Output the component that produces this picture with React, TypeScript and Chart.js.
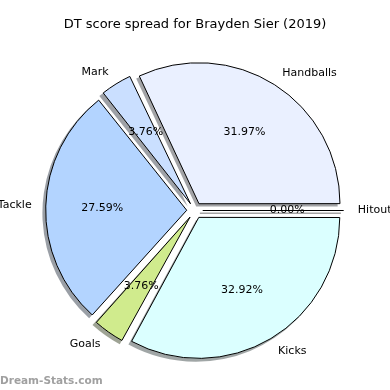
import React, { useEffect, useRef } from "react";
import { Chart, registerables } from "chart.js";

Chart.register(...registerables);

// Order is clockwise from 3 o'clock (matplotlib's counter-clockwise order reversed)
const categories = ["Hitout", "Kicks", "Goals", "Tackle", "Mark", "Handballs"];
const shares = [0.0, 32.92, 3.76, 27.59, 3.76, 31.97];
const sliceColors = ["#f0f0f0", "#dbffff", "#d0eb8d", "#b3d4ff", "#cadfff", "#eaf0ff"];
const titleText = "DT score spread for Brayden Sier (2019)";
const watermark = "Dream-Stats.com";

const RADIUS = 141;
const EXPLODE = 8;
const SHADOW = 2.8;
const FONT = "'DejaVu Sans', sans-serif";

function shadowColor(hex: string) {
  const n = parseInt(hex.slice(1), 16);
  const r = Math.round(((n >> 16) & 255) * 0.3);
  const g = Math.round(((n >> 8) & 255) * 0.3);
  const b = Math.round((n & 255) * 0.3);
  return `rgba(${r},${g},${b},0.5)`;
}

const pieDecor = {
  id: "pieDecor",
  afterDatasetsUpdate(chart: any) {
    const meta = chart.getDatasetMeta(0);
    meta.data.forEach((arc: any) => {
      const circ = arc.circumference || 0;
      const fix = 1 - Math.sin(Math.min(Math.PI, circ));
      arc.outerRadius = RADIUS - EXPLODE * fix;
    });
  },
  beforeDatasetsDraw(chart: any) {
    const ctx = chart.ctx;
    const meta = chart.getDatasetMeta(0);
    ctx.save();
    meta.data.forEach((arc: any, i: number) => {
      const { x, y, startAngle: s, endAngle: e } = arc;
      const mid = (s + e) / 2;
      const cx = x + Math.cos(mid) * EXPLODE - SHADOW;
      const cy = y + Math.sin(mid) * EXPLODE + SHADOW;
      const col = shadowColor(sliceColors[i]);
      if (e - s <= 0) {
        ctx.strokeStyle = col;
        ctx.lineWidth = 1.5;
        ctx.beginPath();
        ctx.moveTo(cx, cy);
        ctx.lineTo(cx + Math.cos(mid) * RADIUS, cy + Math.sin(mid) * RADIUS);
        ctx.stroke();
      } else {
        ctx.fillStyle = col;
        ctx.beginPath();
        ctx.moveTo(cx, cy);
        ctx.arc(cx, cy, RADIUS + 0.5, s, e);
        ctx.closePath();
        ctx.fill();
      }
    });
    ctx.restore();
  },
  afterDatasetsDraw(chart: any) {
    const ctx = chart.ctx;
    const meta = chart.getDatasetMeta(0);
    ctx.save();
    meta.data.forEach((arc: any) => {
      const { x, y, startAngle: s, endAngle: e } = arc;
      if (e - s > 0) return;
      const mid = (s + e) / 2;
      const cx = x + Math.cos(mid) * EXPLODE;
      const cy = y + Math.sin(mid) * EXPLODE;
      ctx.strokeStyle = "#000";
      ctx.lineWidth = 1;
      ctx.beginPath();
      ctx.moveTo(cx, cy);
      ctx.lineTo(cx + Math.cos(mid) * RADIUS, cy + Math.sin(mid) * RADIUS);
      ctx.stroke();
    });
    ctx.restore();
  },
  afterDraw(chart: any) {
    const ctx = chart.ctx;
    const meta = chart.getDatasetMeta(0);
    const total = shares.reduce((a, b) => a + b, 0);
    ctx.save();
    ctx.fillStyle = "#000";
    ctx.textBaseline = "middle";
    meta.data.forEach((arc: any, i: number) => {
      const { x, y, startAngle: s, endAngle: e } = arc;
      const mid = (s + e) / 2;
      const dx = Math.cos(mid);
      const dy = Math.sin(mid);
      const cx = x + dx * EXPLODE;
      const cy = y + dy * EXPLODE;
      ctx.font = `11px ${FONT}`;
      ctx.textAlign = dx > 0 ? "left" : "right";
      ctx.fillText(categories[i], cx + dx * RADIUS * 1.1, cy + dy * RADIUS * 1.1);
      ctx.textAlign = "center";
      const pct = ((shares[i] / total) * 100).toFixed(2) + "%";
      ctx.fillText(pct, cx + dx * RADIUS * 0.6, cy + dy * RADIUS * 0.6);
    });
    ctx.font = `13px ${FONT}`;
    ctx.textAlign = "center";
    ctx.fillText(titleText, 195, 25);
    ctx.font = `bold 10.5px ${FONT}`;
    ctx.fillStyle = "#a0a0a0";
    ctx.textAlign = "left";
    ctx.textBaseline = "alphabetic";
    ctx.fillText(watermark, 0, 384);
    ctx.restore();
  },
};

export default function App() {
  const ref = useRef<HTMLCanvasElement | null>(null);
  useEffect(() => {
    if (!ref.current) return;
    const chart = new Chart(ref.current, {
      type: "pie",
      data: {
        labels: categories,
        datasets: [
          {
            data: shares,
            backgroundColor: sliceColors,
            borderColor: "#000",
            borderWidth: 1,
            offset: EXPLODE * 4,
            hoverOffset: 0,
            radius: RADIUS,
            rotation: 90,
          } as any,
        ],
      },
      options: {
        responsive: false,
        animation: false,
        devicePixelRatio: 1,
        events: [],
        layout: { padding: { left: 0, right: 0.6, top: 31, bottom: 0 } },
        plugins: {
          legend: { display: false },
          title: { display: false },
          tooltip: { enabled: false },
        },
      },
      plugins: [pieDecor],
    });
    return () => chart.destroy();
  }, []);
  return (
    <div style={{ position: "fixed", left: 0, top: 0, width: 390, height: 390, background: "#fff" }}>
      <canvas ref={ref} width={390} height={390} style={{ display: "block" }} />
    </div>
  );
}
